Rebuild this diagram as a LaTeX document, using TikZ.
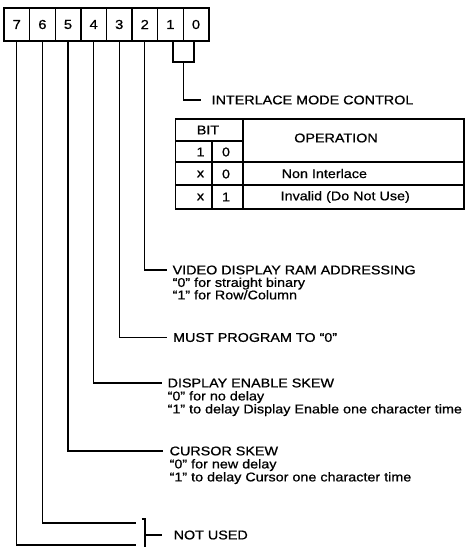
\documentclass[tikz,border=0pt]{standalone}
\usepackage{fontspec}
\setmainfont{Liberation Sans}[FakeStretch=1.13,FakeBold=0.8]
\begin{document}
\begin{tikzpicture}[x=1pt,y=-1pt,line width=1.3pt,
  every node/.style={font=\fontsize{12.7}{13}\selectfont, inner sep=0pt},
  bitbox/.style={draw, line width=1.4pt, minimum width=25.6pt, minimum height=33pt, font=\fontsize{13}{13}\selectfont},
  title/.style={anchor=west},
  desc/.style={anchor=base west},
  tbl/.style={line width=1.3pt}]
\useasboundingbox (0,0) rectangle (470,547);
% register bits
\foreach \i/\b in {0/7,1/6,2/5,3/4,4/3,5/2,6/1,7/0}
  \node[bitbox] (b\b) at ({4+25.6*(\i+0.5)},24.5) {\b};
% labels
\node[title] (interlace) at (211,100) {INTERLACE MODE CONTROL};
\node[title] (video) at (172,270) {VIDEO DISPLAY RAM ADDRESSING};
\node[desc] (video1) at ([yshift=-12.5pt]video.base west) {“0” for straight binary};
\node[desc] (video2) at ([yshift=-12.5pt]video1.base west) {“1” for Row/Column};
\node[title] (must) at (172.5,337.5) {MUST PROGRAM TO “0”};
\node[title] (display) at (167,383) {DISPLAY ENABLE SKEW};
\node[desc] (display1) at ([yshift=-13pt]display.base west) {“0” for no delay};
\node[desc] (display2) at ([yshift=-13pt]display1.base west) {“1” to delay Display Enable one character time};
\node[title] (cursor) at (169,451) {CURSOR SKEW};
\node[desc] (cursor1) at ([yshift=-13pt]cursor.base west) {“0” for new delay};
\node[desc] (cursor2) at ([yshift=-13pt]cursor1.base west) {“1” to delay Cursor one character time};
\node[title] (notused) at (173,535) {NOT USED};
% connectors
\coordinate (j10) at (183.5,62);
\draw ([xshift=2.5pt]b1.south) |- (j10) -| ([xshift=-2pt]b0.south);
\draw (j10) |- ([xshift=-10pt]interlace.west);
\draw (b2.south) |- ([xshift=-5pt]video.west);
\draw (b3.south) |- ([xshift=-5.5pt]must.west);
\draw (b4.south) |- ([xshift=-5pt]display.west);
\draw (b5.south) |- ([xshift=-6pt]cursor.west);
\coordinate (nu6) at (136,523);
\coordinate (nu7) at (136,545);
\draw (b6.south) |- (nu6);
\draw (b7.south) |- (nu7);
\coordinate (brtop) at (141.5,519);
\coordinate (brbot) at (145,547);
\draw (brtop) -| (brbot);
\draw (brbot |- notused.west) -- ([xshift=-11pt]notused.west);
% table
\draw[tbl] (175.5,119) rectangle (464,209);
\draw[tbl] (175.5,141) -- (243,141);
\draw[tbl] (175.5,162) -- (464,162);
\draw[tbl] (175.5,185) -- (464,185);
\draw[tbl] (212,141) -- (212,209);
\draw[tbl] (243,119) -- (243,209);
\node (tbit) at (208,130) {BIT};
\node (t11) at (200.5,152) {1};
\node (t10) at (226,152) {0};
\node (t21) at (200.5,174) {x};
\node (t20) at (226,174) {0};
\node (t31) at (200.5,197) {x};
\node (t30) at (226,197) {1};
\node (top) at (336,138) {OPERATION};
\node[anchor=west] (tnon) at (281,173.5) {Non Interlace};
\node[anchor=west] (tinv) at (280,197) {Invalid (Do Not Use)};
\end{tikzpicture}
\end{document}
